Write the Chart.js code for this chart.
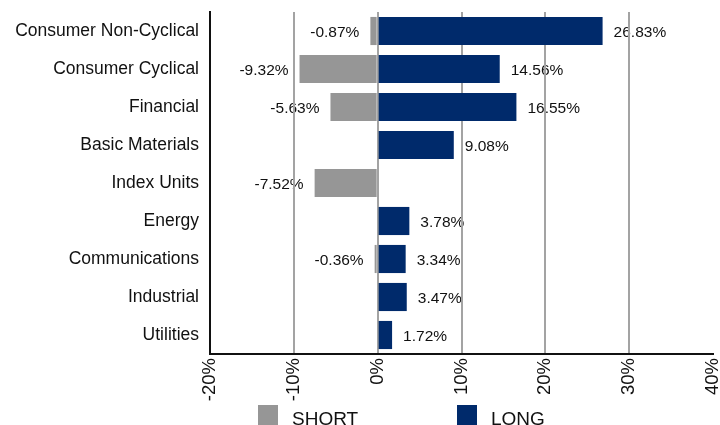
<!DOCTYPE html>
<html>
<head>
<meta charset="utf-8">
<script src="https://cdn.jsdelivr.net/npm/chart.js@4"></script>
<style>
  html, body { margin: 0; padding: 0; background: #fff; }
  #wrap { width: 720px; height: 425px; }
</style>
</head>
<body>
<div id="wrap"><canvas id="sectorChart" width="720" height="425"></canvas></div>
<script>
const sectors = ['Consumer Non-Cyclical', 'Consumer Cyclical', 'Financial', 'Basic Materials', 'Index Units', 'Energy', 'Communications', 'Industrial', 'Utilities'];
const shortPct = [-0.87, -9.32, -5.63, null, -7.52, null, -0.36, null, null];
const longPct = [26.83, 14.56, 16.55, 9.08, null, 3.78, 3.34, 3.47, 1.72];
const axisMin = -20;
const axisMax = 40;

const FONT = "'Liberation Sans', Arial, Helvetica, sans-serif";
const GREY = '#969696';
const NAVY = '#002a6b';

// value labels sit under the grid lines, so they go in beforeDraw
const valueLabels = {
	id: 'valueLabels',
	beforeDraw(chart) {
		const ctx = chart.ctx;
		ctx.save();
		ctx.font = '15.5px ' + FONT;
		ctx.fillStyle = '#111';
		ctx.textBaseline = 'middle';
		chart.data.datasets.forEach((ds, i) => {
			const meta = chart.getDatasetMeta(i);
			meta.data.forEach((bar, j) => {
				const v = ds.data[j];
				if (v === null) return;
				const txt = v.toFixed(2) + '%';
				if (v < 0) {
					ctx.textAlign = 'right';
					ctx.fillText(txt, Math.min(bar.x, bar.base) - 11, bar.y + 2);
				} else {
					ctx.textAlign = 'left';
					ctx.fillText(txt, Math.max(bar.x, bar.base) + 11, bar.y + 2);
				}
			});
		});
		ctx.restore();
	}
};

// square-box legend along the bottom edge
const bottomLegend = {
	id: 'bottomLegend',
	afterDraw(chart) {
		const ctx = chart.ctx;
		const starts = [258, 457];
		ctx.save();
		ctx.font = '19px ' + FONT;
		ctx.textAlign = 'left';
		ctx.textBaseline = 'alphabetic';
		chart.data.datasets.forEach((ds, i) => {
			const x = starts[i];
			ctx.fillStyle = ds.backgroundColor;
			ctx.fillRect(x, 405, 20, 20);
			ctx.fillStyle = '#111';
			ctx.fillText(ds.label, x + 34, 425);
		});
		ctx.restore();
	}
};

new Chart(document.getElementById('sectorChart'), {
	type: 'bar',
	data: {
		labels: sectors,
		datasets: [{
			label: 'SHORT',
			data: shortPct,
			backgroundColor: GREY,
			barPercentage: 0.74,
			categoryPercentage: 1
		}, {
			label: 'LONG',
			data: longPct,
			backgroundColor: NAVY,
			barPercentage: 0.74,
			categoryPercentage: 1
		}]
	},
	options: {
		indexAxis: 'y',
		responsive: false,
		animation: false,
		layout: {
			padding: { top: 12, right: 7, left: 0, bottom: 0 }
		},
		plugins: {
			legend: { display: false },
			tooltip: { enabled: false }
		},
		scales: {
			x: {
				stacked: true,
				min: axisMin,
				max: axisMax,
				ticks: {
					stepSize: 10,
					minRotation: 90,
					maxRotation: 90,
					padding: 4,
					color: '#111',
					font: { family: FONT, size: 18.5 },
					callback: function(value) {
						return value + '%';
					}
				},
				grid: {
					drawTicks: false,
					lineWidth: 2,
					color: function(c) {
						return c.tick && c.tick.value === axisMax ? 'rgba(0,0,0,0)' : '#a3a3a3';
					}
				},
				border: { color: '#111', width: 2 },
				afterFit: function(scale) {
					scale.height = 71;
					scale.paddingLeft = 0;
					scale.paddingRight = 0;
				}
			},
			y: {
				stacked: true,
				ticks: {
					padding: 11,
					color: '#111',
					font: { family: FONT, size: 17.5 }
				},
				grid: { display: false, drawTicks: false },
				border: { color: '#111', width: 2 },
				afterFit: function(scale) {
					scale.width = 210;
					scale.paddingTop = 0;
					scale.paddingBottom = 0;
				}
			}
		}
	},
	plugins: [valueLabels, bottomLegend]
});
</script>
</body>
</html>
